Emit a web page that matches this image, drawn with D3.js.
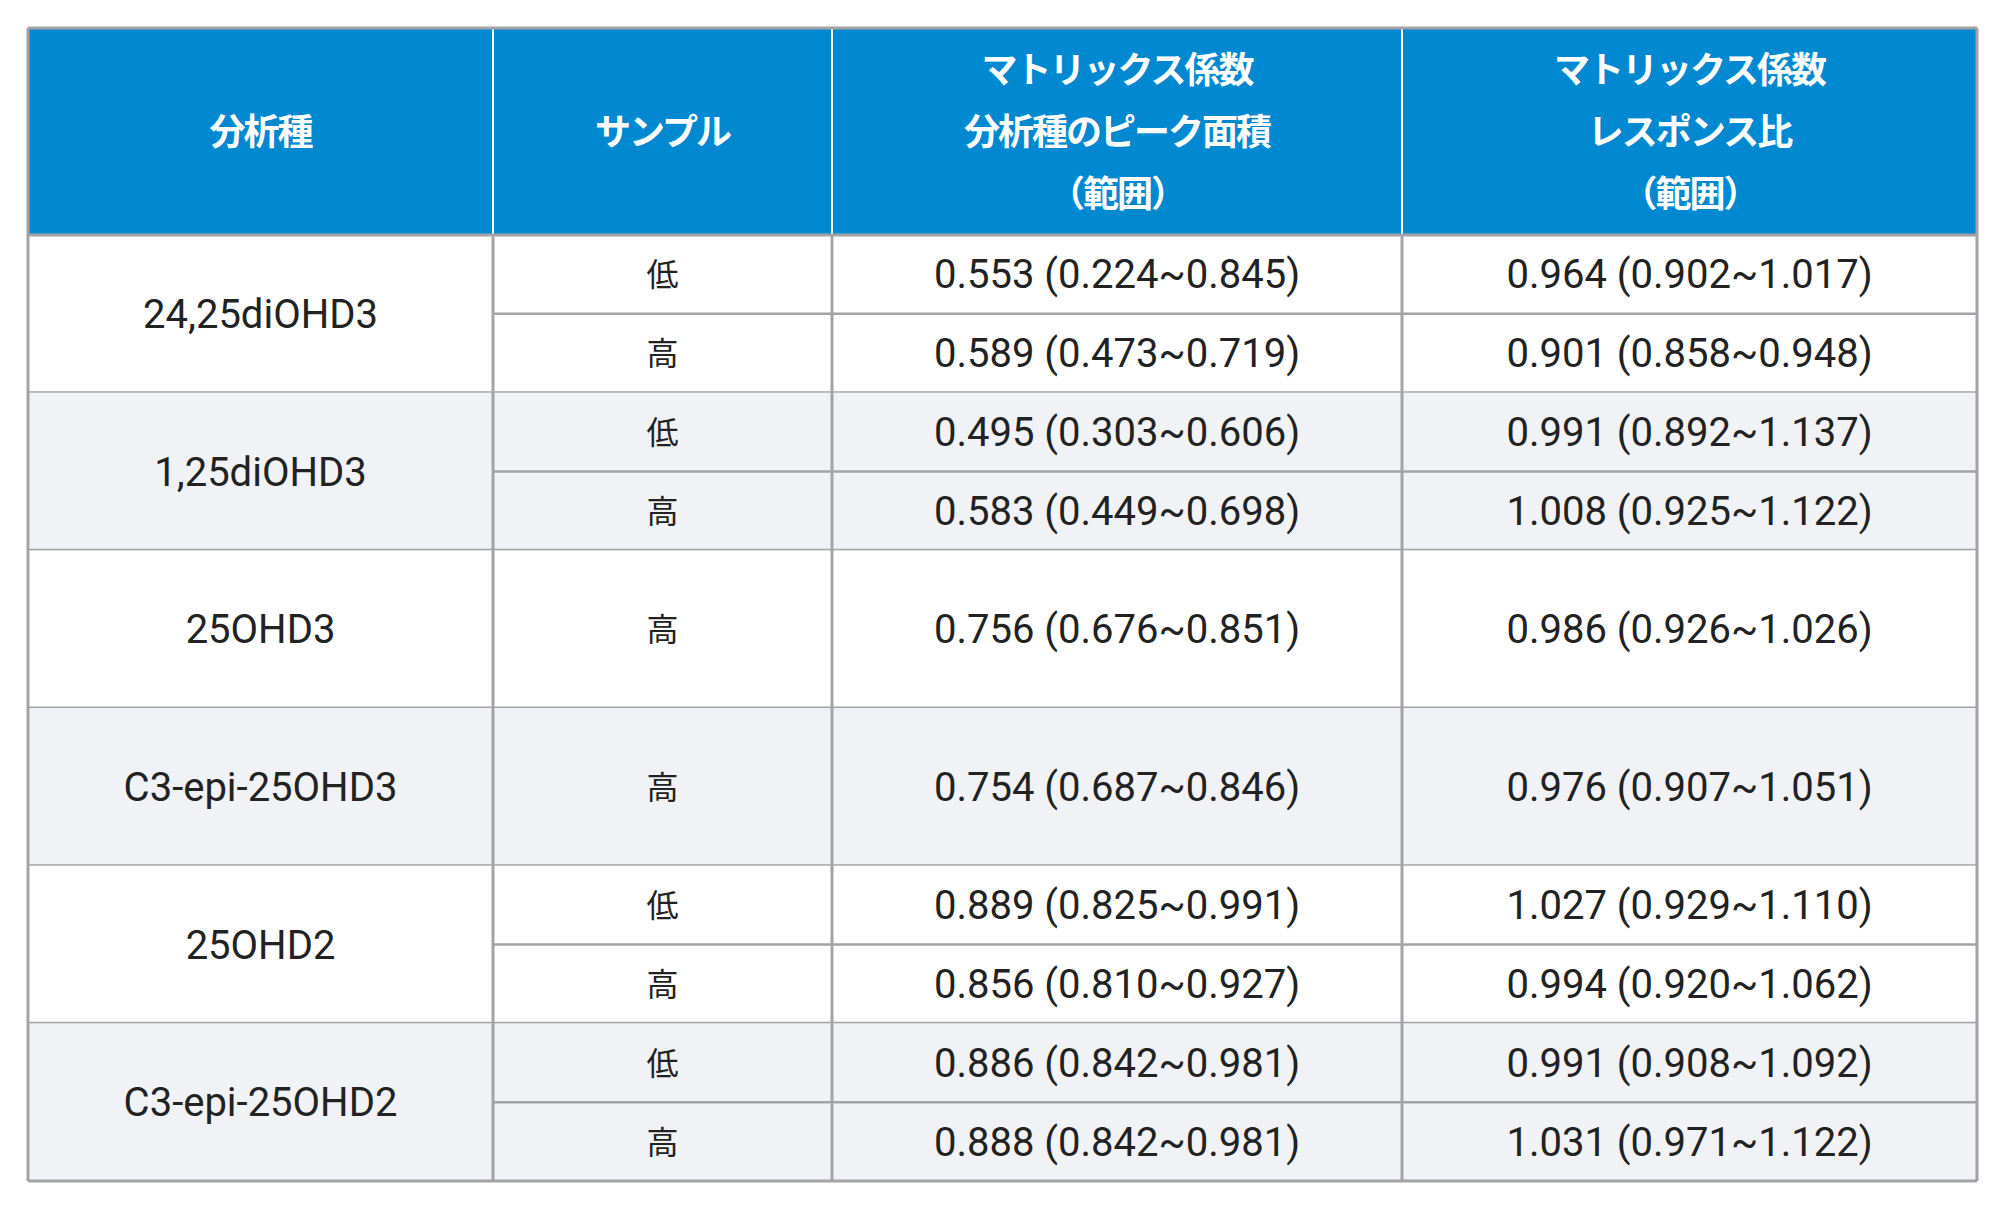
<!DOCTYPE html>
<html><head><meta charset="utf-8">
<script src="https://cdn.jsdelivr.net/npm/d3@7"></script>
<style>body{margin:0;background:#fff}</style>
</head><body><svg id="tbl"></svg>
<script>
const headers = [['分析種'], ['サンプル'], ['マトリックス係数', '分析種のピーク面積', '（範囲）'], ['マトリックス係数', 'レスポンス比', '（範囲）']];
const analytes = ['24,25diOHD3', '1,25diOHD3', '25OHD3', 'C3-epi-25OHD3', '25OHD2', 'C3-epi-25OHD2'];
const samples = [['低', '高'], ['低', '高'], ['高'], ['高'], ['低', '高'], ['低', '高']];
const peakArea = [['0.553 (0.224~0.845)', '0.589 (0.473~0.719)'], ['0.495 (0.303~0.606)', '0.583 (0.449~0.698)'],
  ['0.756 (0.676~0.851)'], ['0.754 (0.687~0.846)'], ['0.889 (0.825~0.991)', '0.856 (0.810~0.927)'],
  ['0.886 (0.842~0.981)', '0.888 (0.842~0.981)']];
const respRatio = [['0.964 (0.902~1.017)', '0.901 (0.858~0.948)'], ['0.991 (0.892~1.137)', '1.008 (0.925~1.122)'],
  ['0.986 (0.926~1.026)'], ['0.976 (0.907~1.051)'], ['1.027 (0.929~1.110)', '0.994 (0.920~1.062)'],
  ['0.991 (0.908~1.092)', '1.031 (0.971~1.122)']];

const W = 2000, H = 1210;
const svg = d3.select('#tbl').attr('width', W).attr('height', H);
const colEdges = [28, 493, 832, 1402, 1977];
const tableTop = 28, headBottom = 235, tableBottom = 1181;
// every analyte group gets the same height
const y = d3.scaleLinear().domain([0, analytes.length]).range([headBottom, tableBottom]);
const border = '#a3a3a7';
const font = "'Roboto', 'Noto Sans CJK JP', sans-serif";

// header
svg.append('rect').attr('x', colEdges[0]).attr('y', tableTop).attr('width', colEdges[4] - colEdges[0])
   .attr('height', headBottom - tableTop).attr('fill', '#0089d0');
headers.forEach((lines, i) => {
    const cx = (colEdges[i] + colEdges[i + 1]) / 2, cy = (tableTop + headBottom) / 2;
    const t = svg.append('text').attr('x', cx).attr('text-anchor', 'middle')
       .attr('fill', '#fff').attr('font-family', "'Noto Sans CJK JP', sans-serif")
       .attr('font-weight', 700).attr('font-size', 36).attr('letter-spacing', -2);
    lines.forEach((l, j) => t.append('tspan').attr('x', cx)
       .attr('y', cy + (j - (lines.length - 1) / 2) * 62 + 13).text(l));
});

analytes.forEach((a, g) => {
    const y0 = y(g), y1 = y(g + 1);
    svg.append('rect').attr('x', colEdges[0]).attr('y', y0).attr('width', colEdges[4] - colEdges[0])
       .attr('height', y1 - y0).attr('fill', g % 2 ? '#f1f2f5' : '#fff');
    svg.append('text').attr('x', (colEdges[0] + colEdges[1]) / 2).attr('y', (y0 + y1) / 2 + 14)
       .attr('text-anchor', 'middle').attr('font-family', font).attr('font-size', 40)
       .attr('fill', '#222').text(a);
    const n = samples[g].length;
    const sy = d3.scaleLinear().domain([0, n]).range([y0, y1]);
    samples[g].forEach((s, k) => {
        const cy = (sy(k) + sy(k + 1)) / 2;
        [s, peakArea[g][k], respRatio[g][k]].forEach((txt, c) => {
            svg.append('text').attr('x', (colEdges[c + 1] + colEdges[c + 2]) / 2)
               .attr('y', cy + (c === 0 ? 12 : 14)).attr('text-anchor', 'middle')
               .attr('font-family', c === 0 ? "'Noto Sans CJK JP', sans-serif" : font)
               .attr('font-size', c === 0 ? 32 : 40).attr('fill', '#222').text(txt);
        });
        if (k > 0) svg.append('line').attr('x1', colEdges[1]).attr('x2', colEdges[4])
           .attr('y1', sy(k)).attr('y2', sy(k)).attr('stroke', border).attr('stroke-width', 2.5);
    });
    svg.append('line').attr('x1', colEdges[0]).attr('x2', colEdges[4])
       .attr('y1', y1).attr('y2', y1).attr('stroke', border).attr('stroke-width', 3);
});

// vertical lines
colEdges.forEach((x, i) => {
    svg.append('line').attr('x1', x).attr('x2', x)
       .attr('y1', (i === 0 || i === 4) ? tableTop : headBottom).attr('y2', tableBottom)
       .attr('stroke', border).attr('stroke-width', 3);
    if (i > 0 && i < 4) svg.append('line').attr('x1', x).attr('x2', x).attr('y1', tableTop).attr('y2', headBottom)
       .attr('stroke', '#fff').attr('stroke-width', 2);
});
svg.append('line').attr('x1', colEdges[0]).attr('x2', colEdges[4]).attr('y1', tableTop).attr('y2', tableTop)
   .attr('stroke', border).attr('stroke-width', 3);
svg.append('line').attr('x1', colEdges[0]).attr('x2', colEdges[4]).attr('y1', headBottom).attr('y2', headBottom)
   .attr('stroke', border).attr('stroke-width', 3);
</script></body></html>
